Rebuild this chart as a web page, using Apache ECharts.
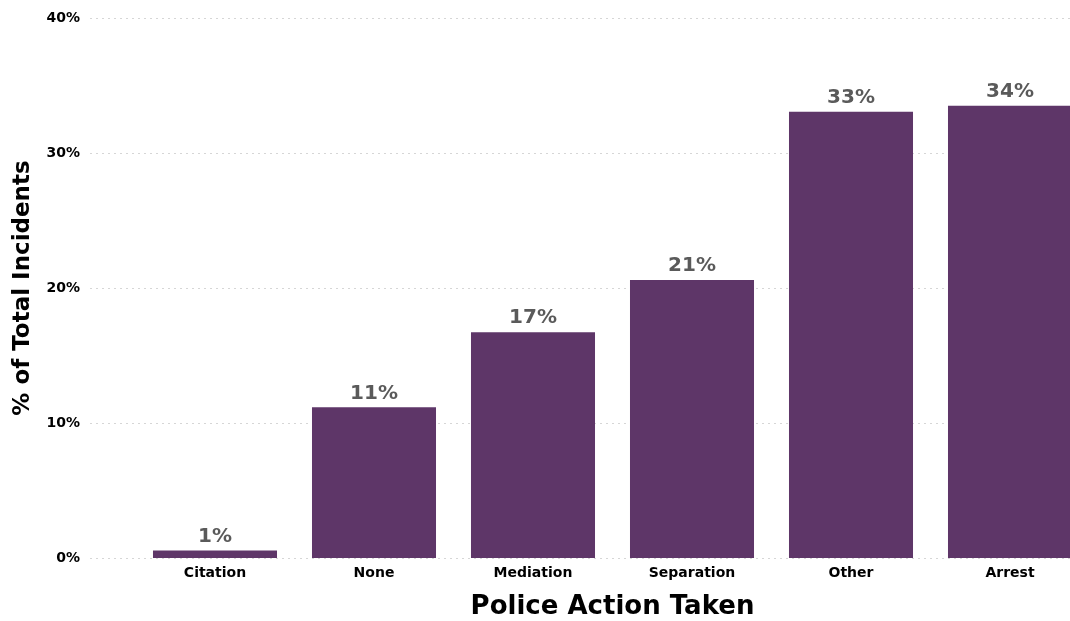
<!DOCTYPE html>
<html>
<head>
<meta charset="utf-8">
<script src="https://cdn.jsdelivr.net/npm/echarts@6/dist/echarts.min.js"></script>
<style>
  html, body { margin: 0; padding: 0; background: #ffffff; }
  #chart { width: 1070px; height: 621px; }
</style>
</head>
<body>
<div id="chart"></div>
<script>
// Police action categories and share of total incidents (%)
const categories = ['Citation', 'None', 'Mediation', 'Separation', 'Other', 'Arrest'];
const shares = [0.55, 11.16, 16.72, 20.6, 33.06, 33.5];
const yTicks = [0, 10, 20, 30, 40];

const FONT = 'DejaVu Sans';
const BAR = '#5e3668';

const chart = echarts.init(document.getElementById('chart'), null, { renderer: 'canvas' });

chart.setOption({
  animation: false,
  backgroundColor: '#ffffff',
  grid: [
    // panel carrying the dotted gridlines and the y tick labels
    { left: 90, top: 18, width: 1000, bottom: 63, outerBoundsMode: 'none', containLabel: false },
    // band area holding the bars (runs past the right edge of the canvas)
    { left: 135.5, top: 18, width: 954, bottom: 63, outerBoundsMode: 'none', containLabel: false }
  ],
  xAxis: [
    { gridIndex: 0, type: 'value', min: 0, max: 1, show: false },
    {
      gridIndex: 1,
      type: 'category',
      data: categories,
      boundaryGap: true,
      axisLine: { show: false },
      axisTick: { show: false },
      axisLabel: {
        margin: 8,
        color: '#000000',
        fontFamily: FONT,
        fontWeight: 'bold',
        fontSize: 14
      },
      name: 'Police Action Taken',
      nameLocation: 'middle',
      nameGap: 36,
      nameTextStyle: {
        color: '#000000',
        fontFamily: FONT,
        fontWeight: 'bold',
        fontSize: 26
      }
    }
  ],
  yAxis: [
    {
      gridIndex: 0,
      type: 'value',
      min: yTicks[0],
      max: yTicks[yTicks.length - 1],
      interval: 10,
      axisLine: { show: false },
      axisTick: { show: false },
      axisLabel: {
        margin: 10,
        color: '#000000',
        fontFamily: FONT,
        fontWeight: 'bold',
        fontSize: 14,
        formatter: v => v + '%'
      },
      splitLine: {
        show: true,
        lineStyle: { color: '#d6d6d6', width: 1, type: [2, 4] }
      },
      name: '% of Total Incidents',
      nameLocation: 'middle',
      nameRotate: 90,
      nameGap: 55,
      nameTextStyle: {
        color: '#000000',
        fontFamily: FONT,
        fontWeight: 'bold',
        fontSize: 23
      }
    },
    {
      gridIndex: 1,
      type: 'value',
      min: yTicks[0],
      max: yTicks[yTicks.length - 1],
      interval: 10,
      show: false,
      splitLine: { show: false }
    }
  ],
  series: [
    {
      type: 'bar',
      xAxisIndex: 1,
      yAxisIndex: 1,
      data: shares,
      barWidth: '78%',
      itemStyle: { color: BAR },
      label: {
        show: true,
        position: 'top',
        distance: 4,
        color: '#5a5a5a',
        fontFamily: FONT,
        fontWeight: 'bold',
        fontSize: 20,
        formatter: p => Math.round(p.value) + '%'
      }
    }
  ]
});
</script>
</body>
</html>
